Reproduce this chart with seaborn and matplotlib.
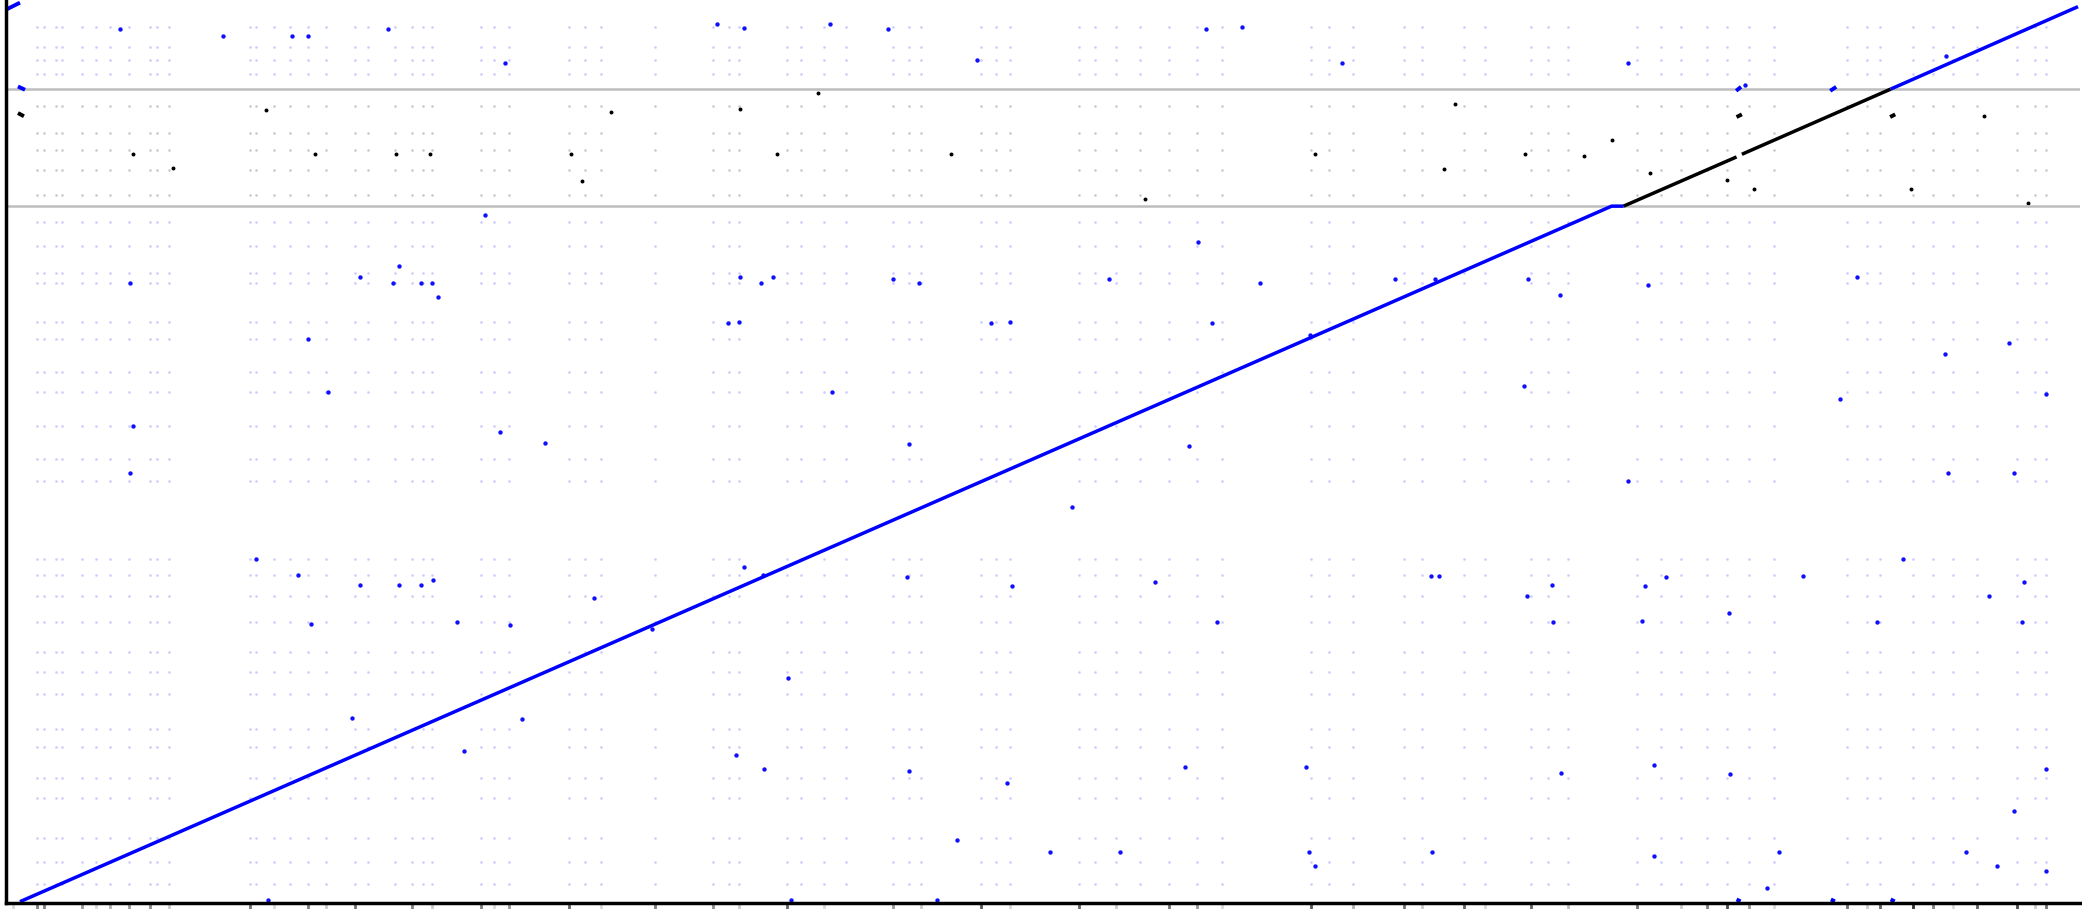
import numpy as np
import pandas as pd
import matplotlib
matplotlib.use("Agg")
import matplotlib.pyplot as plt
import seaborn as sns

# positions on the query (x) and reference (y) axes, y counted downward from the top
# main alignment chain
chain_x = [15, 1213, 1222]
chain_y = [678, 155, 155]
inv_x = [1222, 1307, 1311, 1423]
inv_y = [155, 118, 116, 67]
top_x = [1423, 1564]
top_y = [67, 5]

# short blue / black alignment pieces (x0, y0, x1, y1)
blue_bits = [(5, 7, 15, 2), (13.5, 65, 18.8, 67.5), (1306.7, 68.3, 1310.4, 65.3),
             (1377.5, 68.3, 1382, 65.3), (1307, 676.3, 1310, 677.8),
             (1378, 676.3, 1381, 677.8), (1423, 676.3, 1426, 677.8)]
black_bits = [(13.5, 85, 18, 87.4), (1307, 88, 1311, 86), (1422.6, 88, 1426.4, 86)]

# sequence boundaries on the reference axis
bounds_y = [67, 155]

# repeat columns / rows for the faint background hits
rep_cols = [28, 33, 42, 47, 62, 72, 83, 97, 113, 118, 127,
            188, 193, 206, 218, 232, 245, 267, 277, 297, 310, 318, 325,
            362, 372, 383, 428, 440, 452, 493, 537, 549, 556,
            592, 603, 620, 637, 672, 684, 693, 738, 750, 760,
            812, 824, 840, 858, 880, 901, 920, 987, 1000, 1018,
            1057, 1070, 1102, 1118, 1152, 1165, 1180,
            1232, 1250, 1265, 1285, 1300, 1316, 1335, 1390, 1405, 1415,
            1440, 1455, 1470, 1488, 1518, 1532, 1540]
rep_rows = [20, 35, 45, 56, 80, 100, 113, 128, 147, 167, 185, 205, 213,
            242, 255, 280, 295, 320, 345, 362, 420, 432, 448, 468,
            490, 505, 522, 548, 562, 585, 600, 630, 648, 665]

# stronger isolated hits
hit_x = [90, 168, 220, 232, 292, 380, 540, 560, 625, 668, 735, 908, 935, 1010, 1225, 1313, 1465,
         98, 271, 296, 317, 325, 365, 330, 300, 557, 573, 582, 548, 556, 672, 692, 746, 760,
         835, 902, 912, 948, 986, 1050, 1080, 1150, 1174, 1240, 1398, 1464, 1512, 1540, 247,
         232, 626, 1147, 684, 895, 807, 560, 574, 683, 762, 869, 1077, 1083, 1149, 1168, 1254,
         1357, 1497, 1523, 271, 300, 317, 326, 344, 234, 384, 447, 491, 916, 1169, 1301, 1413,
         1522, 1432, 193, 224, 265, 349, 393, 554, 575, 593, 684, 758, 892, 983, 1175, 1245,
         1302, 1540, 1516, 720, 790, 843, 985, 1078, 1245, 1339, 1480, 1503, 1330, 990, 202,
         595, 705, 1540, 410, 376, 1236, 1238, 100, 98, 1385, 1466, 1516, 1225]
hit_y = [22, 27, 27, 27, 22, 47, 18, 21, 18, 22, 45, 22, 20, 47, 47, 64, 42,
         213, 208, 213, 213, 213, 162, 223, 200, 208, 213, 208, 243, 242, 210, 213, 243, 242,
         210, 182, 243, 213, 252, 210, 210, 210, 222, 214, 208, 266, 258, 296, 295,
         255, 295, 290, 334, 335, 381, 426, 432, 434, 441, 438, 433, 433, 448, 440, 434,
         433, 448, 438, 440, 440, 440, 436, 468, 469, 470, 450, 473, 468, 468, 461, 468,
         468, 420, 420, 432, 540, 565, 541, 568, 578, 510, 580, 589, 577, 577, 581, 575,
         582, 578, 610, 632, 641, 641, 641, 641, 644, 641, 641, 651, 668, 651, 677,
         677, 677, 655, 333, 325, 467, 441, 320, 356, 300, 356, 356, 362]
black_hit_x = [100, 130, 200, 237, 298, 324, 430, 438, 460, 557, 585, 616, 716, 862,
               990, 1095, 1087, 1148, 1192, 1213, 1242, 1493, 1300, 1320, 1438, 1526]
black_hit_y = [116, 126, 83, 116, 116, 116, 116, 136, 84, 82, 116, 70, 116, 150,
               116, 78, 127, 116, 117, 105, 130, 87, 135, 142, 142, 153]

# rug below the query axis: position and darkness
rug_x = [10, 28, 33, 62, 72, 83, 97, 113, 127, 188, 206, 232, 245, 267, 310, 325, 362,
         372, 383, 428, 452, 493, 537, 556, 592, 620, 672, 693, 738, 760, 812, 840, 880,
         901, 920, 987, 1018, 1057, 1070, 1102, 1118, 1152, 1180, 1232, 1265, 1285, 1300,
         1316, 1335, 1390, 1405, 1415, 1440, 1455, 1470, 1488, 1518, 1532, 1540]
rug_gray = [0.85, 0.5, 0.5, 0.6, 0.85, 0.7, 0.6, 0.55, 0.8, 0.45, 0.85, 0.5, 0.8, 0.45,
            0.5, 0.8, 0.5, 0.85, 0.6, 0.4, 0.85, 0.5, 0.55, 0.8, 0.4, 0.85, 0.6, 0.8,
            0.35, 0.85, 0.4, 0.8, 0.45, 0.6, 0.85, 0.35, 0.7, 0.45, 0.8, 0.4, 0.85,
            0.4, 0.75, 0.45, 0.8, 0.5, 0.3, 0.6, 0.85, 0.45, 0.8, 0.4, 0.2, 0.5, 0.85,
            0.4, 0.3, 0.8, 0.45]

sns.set_style("white")
fig = plt.figure(figsize=(20.82, 9.09), dpi=100)
ax = fig.add_axes([6 / 2082, 6 / 909, 2074 / 2082, 903 / 909])

# faint background grid of repeat hits
gx, gy = np.meshgrid(rep_cols, rep_rows)
grid = pd.DataFrame({"x": gx.ravel(), "y": gy.ravel()})
grid["band"] = np.where((grid["y"] > bounds_y[0]) & (grid["y"] < bounds_y[1]), "inv", "fwd")
sns.scatterplot(data=grid[grid.band == "fwd"], x="x", y="y", color="#8c8cff", s=3.5,
                alpha=0.45, linewidth=0, ax=ax, legend=False)
sns.scatterplot(data=grid[grid.band == "inv"], x="x", y="y", color="#888888", s=3.5,
                alpha=0.45, linewidth=0, ax=ax, legend=False)

# stronger hits
sns.scatterplot(x=hit_x, y=hit_y, color="#1010ff", s=10, linewidth=0, ax=ax, legend=False)
sns.scatterplot(x=black_hit_x, y=black_hit_y, color="black", s=8, linewidth=0, ax=ax,
                legend=False)

for y in bounds_y:
    ax.axhline(y, color="#bdbdbd", lw=1.8, zorder=1)

ax.plot(chain_x, chain_y, color="#0000ff", lw=2.5, solid_capstyle="butt")
ax.plot(inv_x[:2], inv_y[:2], color="black", lw=2.5, solid_capstyle="butt")
ax.plot(inv_x[2:], inv_y[2:], color="black", lw=2.5, solid_capstyle="butt")
ax.plot(top_x, top_y, color="#0000ff", lw=2.5, solid_capstyle="butt")
for x0, y0, x1, y1 in blue_bits:
    ax.plot([x0, x1], [y0, y1], color="#0000ff", lw=2.8, solid_capstyle="butt")
for x0, y0, x1, y1 in black_bits:
    ax.plot([x0, x1], [y0, y1], color="black", lw=2.8, solid_capstyle="butt")

# rug of sequence marks under the axis
ax.vlines(rug_x, -0.008, 0, colors=[str(g) for g in rug_gray], lw=2,
          transform=ax.get_xaxis_transform(), clip_on=False)

ax.set_xlim(4.5, 1565.5)
ax.set_ylim(679, 0)
ax.set_xticks([])
ax.set_yticks([])
ax.set_xlabel("")
ax.set_ylabel("")
for s in ["top", "right"]:
    ax.spines[s].set_visible(False)
for s in ["left", "bottom"]:
    ax.spines[s].set_color("black")
    ax.spines[s].set_linewidth(2.5)

fig.savefig("out.png", dpi=100, facecolor="white")
